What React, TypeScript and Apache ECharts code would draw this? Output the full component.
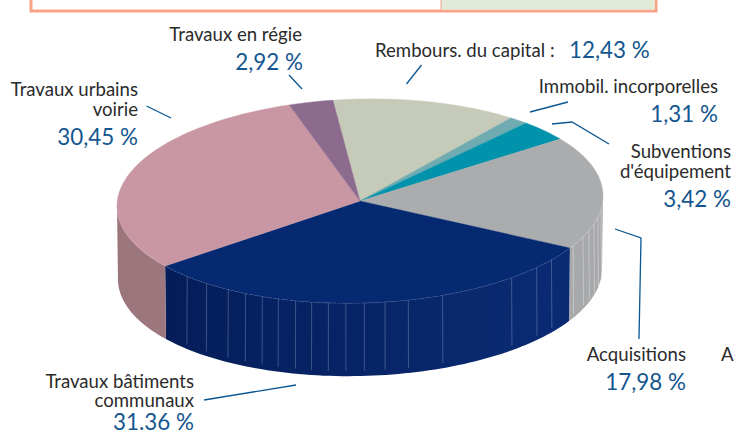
import React, { useEffect, useRef } from "react";
import * as echarts from "echarts";

const categories = ["Rembours. du capital", "Immobil. incorporelles", "Subventions d'équipement", "Acquisitions", "Travaux bâtiments communaux", "Travaux urbains voirie", "Travaux en régie"];
const shares = [12.43, 1.31, 3.42, 17.98, 31.36, 30.45, 2.92];
const topColors = ["#c6cab8", "#6fabb1", "#0093ab", "#abacae", "#052a72", "#c997a4", "#8d6b8e"];
const wallColors: (string | string[])[] = ["#c6cab8", "#6fabb1", "#0093ab", ["#a8a9ab", "#a8a9ab"], ["#051e5a", "#0a2b74"], ["#9b757c", "#9d777e"], "#8d6b8e"];
const startAngle = 96.4;
const depth = 0.716;
const tilt = 0.05;
const ribsNavy = [-0.711, -0.631, -0.542, -0.471, -0.402, -0.336, -0.265, -0.199, -0.130, -0.058, 0.018, 0.103, 0.199, 0.340, 0.624, 0.727, 0.788];
const ribsGray = [0.877, 0.918, 0.942, 0.963, 0.979, 0.992];

const DARK = "#2b2b2b";
const BLUE = "#14568f";
const LINE = "#0b5690";
const FONT = "Lato, 'Liberation Sans', sans-serif";
const labels: [string, number, number, string, string][] = [
  ["Travaux en régie", 302, 33, "right", DARK],
  ["2,92 %", 303, 61, "right", BLUE],
  ["Rembours. du capital :", 375, 49, "left", DARK],
  ["12,43 %", 569, 49, "left", BLUE],
  ["Immobil. incorporelles", 718, 85, "right", DARK],
  ["1,31 %", 718, 113, "right", BLUE],
  ["Subventions", 731, 150, "right", DARK],
  ["d'équipement", 731, 170, "right", DARK],
  ["3,42 %", 731, 198, "right", BLUE],
  ["Acquisitions", 686, 353, "right", DARK],
  ["A", 721, 353, "left", DARK],
  ["17,98 %", 686, 381, "right", BLUE],
  ["Travaux bâtiments", 194, 380, "right", DARK],
  ["communaux", 194, 399, "right", DARK],
  ["31.36 %", 194, 421, "right", BLUE],
  ["Travaux urbains", 138, 88, "right", DARK],
  ["voirie", 138, 108, "right", DARK],
  ["30,45 %", 138, 136, "right", BLUE],
];
const leaders: number[][][] = [
  [[289, 75], [302, 89]],
  [[421.5, 65], [406.5, 84]],
  [[568, 102], [530, 112]],
  [[552, 124], [572, 122], [609, 144]],
  [[615, 229], [641, 238], [639, 339]],
  [[204, 400], [296, 385]],
  [[146.5, 106], [171, 118]],
];

const rad = (d: number) => (d * Math.PI) / 180;
const total = shares.reduce((a, b) => a + b, 0);
let cursor = startAngle;
const slices = shares.map((v, i) => {
  const a = cursor;
  cursor -= (v / total) * 360;
  return [a, cursor, i];
});

function arc(a: number, b: number, dy: number, rx: number, api: any) {
  const n = Math.max(2, Math.ceil(Math.abs(a - b) / 1.5));
  const pts: number[][] = [];
  for (let k = 0; k <= n; k++) {
    const t = rad(a + ((b - a) * k) / n);
    pts.push(api.coord([Math.cos(t) * rx, Math.sin(t) + tilt * Math.cos(t) - dy]));
  }
  return pts;
}

const renderTop = (params: any, api: any) => {
  const a = api.value(0), b = api.value(1), i = api.value(2);
  const pts = [api.coord([0, 0]), ...arc(a, b, 0, 1, api)];
  return { type: "polygon", shape: { points: pts }, style: { fill: topColors[i], stroke: topColors[i], lineWidth: 0.4 } };
};

const renderWall = (params: any, api: any) => {
  const a = api.value(0), b = api.value(1), i = api.value(2);
  // only the front half of the cylinder shows
  const from = a > 0 && b < 0 ? 0 : a;
  const to = b < -180 ? -180 : b;
  if (a > 0 && b >= 0) return null;
  if (to >= from) return null;
  const top = arc(from, to, 0, 1, api);
  const bottom = arc(to, from, depth, 0.996, api);
  const c = wallColors[i];
  const fill = Array.isArray(c)
    ? new echarts.graphic.LinearGradient(0, 0, 1, 0, [{ offset: 0, color: c[0] }, { offset: 1, color: c[1] }])
    : c;
  const children: any[] = [{ type: "polygon", shape: { points: [...top, ...bottom] }, style: { fill, stroke: null } }];
  const ribs = i === 4 ? ribsNavy : i === 3 ? ribsGray : [];
  ribs.forEach((x) => {
    const y = Math.sqrt(1 - x * x);
    const yb = Math.sqrt(1 - (x * 0.996) ** 2);
    children.push({
      type: "line",
      shape: (() => {
        const p = api.coord([x, -y + tilt * x]);
        const q = api.coord([x * 1.002, -yb + tilt * x - depth * 0.93]);
        return { x1: p[0], y1: p[1], x2: q[0], y2: q[1] };
      })(),
      style: { stroke: i === 4 ? "rgba(190,200,225,0.38)" : "rgba(235,235,235,0.55)", lineWidth: 0.8 },
    });
  });
  if (i === 4 || i === 3) {
    children.push({
      type: "polyline",
      shape: { points: top },
      style: { stroke: i === 4 ? "rgba(200,205,225,0.6)" : "rgba(245,245,245,0.85)", lineWidth: 0.7, fill: null, lineDash: i === 4 ? [3, 1] : undefined },
    });
  }
  return { type: "group", children };
};

export default function App() {
  const ref = useRef<HTMLDivElement>(null);
  useEffect(() => {
    document.body.style.margin = "0";
    const chart = echarts.init(ref.current!, undefined, { renderer: "svg" });
    const graphic: any[] = [
      { type: "rect", shape: { x: 31, y: -10, width: 625, height: 21 }, style: { fill: "#ffffff", stroke: "#f9a488", lineWidth: 3 } },
      { type: "rect", shape: { x: 441, y: -10, width: 213.5, height: 19.5 }, style: { fill: "#e1ebd8", stroke: null } },
      { type: "line", shape: { x1: 441, y1: 0, x2: 441, y2: 10 }, style: { stroke: "#f9a488", lineWidth: 1 } },
      ...leaders.map((pts) => ({ type: "polyline", shape: { points: pts }, style: { stroke: LINE, lineWidth: 1.3, fill: null }, z: 5 })),
      ...labels.map(([text, x, y, align, color]) => ({
        type: "text",
        z: 6,
        x,
        y,
        scaleX: color === BLUE ? 0.975 : 0.93,
        scaleY: 1,
        style: { text, x: 0, y: 0, textAlign: align, textVerticalAlign: "middle", fill: color, fontFamily: FONT, fontSize: color === BLUE ? 23 : 20 },
      })),
    ];
    chart.setOption({
      animation: false,
      grid: { left: 117, width: 486, top: 99, height: 204, containLabel: false },
      xAxis: { type: "value", min: -1, max: 1, show: false },
      yAxis: { type: "value", min: -1, max: 1, show: false },
      graphic,
      series: [
        { type: "custom", name: "walls", coordinateSystem: "cartesian2d", clip: false, silent: true, z: 1, data: slices, renderItem: renderWall, encode: { x: 0, y: 1 } },
        { type: "custom", name: "tops", coordinateSystem: "cartesian2d", clip: false, silent: true, z: 2, data: slices, renderItem: renderTop, encode: { x: 0, y: 1 } },
      ],
    });
    return () => chart.dispose();
  }, []);
  void categories;
  return <div ref={ref} style={{ position: "absolute", left: 0, top: 0, width: 734, height: 434 }} />;
}
